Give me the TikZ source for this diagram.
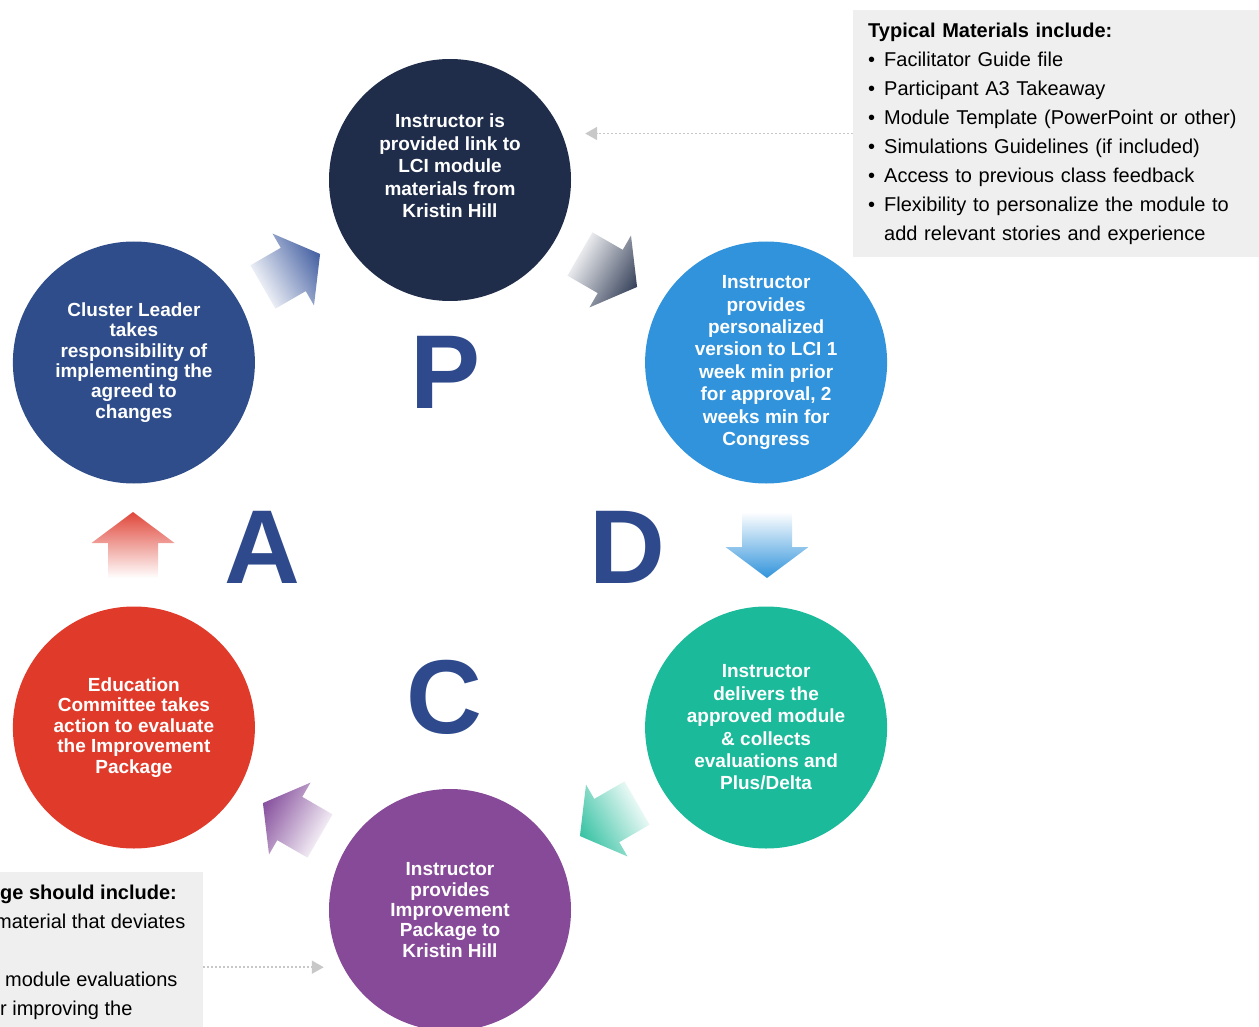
\documentclass[tikz,border=0pt]{standalone}
\usepackage{fontspec}
\setmainfont{Liberation Sans}
\usetikzlibrary{arrows.meta, positioning, calc}

\definecolor{planNavy}{HTML}{1F2D4A}
\definecolor{doSky}{HTML}{3093DB}
\definecolor{doTeal}{HTML}{1BBA9A}
\definecolor{checkPurple}{HTML}{874A98}
\definecolor{actRed}{HTML}{E03A2A}
\definecolor{actBlue}{HTML}{2F4D8A}
\definecolor{letterBlue}{HTML}{2E4A8C}
\definecolor{noteGray}{HTML}{EFEFEF}
\definecolor{linkGray}{HTML}{C8C8C8}
\definecolor{arrNavy}{HTML}{3C475F}
\definecolor{arrLead}{HTML}{4A65A5}
\definecolor{arrTeal}{HTML}{3DC4A6}
\definecolor{arrPurple}{HTML}{8A55A0}
\definecolor{arrRed}{HTML}{E0473A}

\newcommand{\bul}{\makebox[16pt][l]{\textbullet}}

\begin{document}
\begin{tikzpicture}[
    x=1pt, y=1pt,
    stage/.style={circle, minimum size=242pt, inner sep=0pt, text=white, align=center, font=\bfseries\fontsize{19}{22.4}\selectfont},
    snug/.style={font=\bfseries\fontsize{19}{20.4}\selectfont},
    blurb/.style={text=white, align=center, font=\bfseries\fontsize{19}{22.4}\selectfont},
    letter/.style={anchor=base, text=letterBlue, font=\bfseries\fontsize{105}{105}\selectfont},
    note/.style={rectangle, fill=noteGray, inner xsep=15pt, inner ysep=12.5pt, align=left, font=\fontsize{20}{29}\selectfont},
    link/.style={draw=linkGray, line width=1.8pt, dash pattern=on 1.8pt off 2.2pt, -{Triangle[length=12pt, width=13pt]}}
]
\useasboundingbox (0,0) rectangle (1259,-1027);

\coordinate (hub) at (450,-545);

% PDCA circles
\node[stage, fill=planNavy] (plan) at ($(hub)+(90:365)$) {};
\node[blurb] (plantext) at ([yshift=14pt]plan.center) {Instructor is\\provided link to\\LCI module\\materials from\\Kristin Hill};
\node[stage, fill=doSky] (prepare) at ($(hub)+(30:365)$) {Instructor\\provides\\personalized\\version to LCI 1\\week min prior\\for approval, 2\\weeks min for\\Congress};
\node[stage, fill=doTeal] (deliver) at ($(hub)+(-30:365)$) {Instructor\\delivers the\\approved module\\\& collects\\evaluations and\\Plus/Delta};
\node[stage, snug, fill=checkPurple] (report) at ($(hub)+(-90:365)$) {Instructor\\provides\\Improvement\\Package to\\Kristin Hill};
\node[stage, snug, fill=actRed] (review) at ($(hub)+(210:365)$) {Education\\Committee takes\\action to evaluate\\the Improvement\\Package};
\node[stage, snug, fill=actBlue] (adopt) at ($(hub)+(150:365)$) {Cluster Leader\\takes\\responsibility of\\implementing the\\agreed to\\changes};

% Big letters
\node[letter] (letterP) at (446,-408) {P};
\node[letter] (letterD) at (627,-583) {D};
\node[letter] (letterA) at (262,-583) {A};
\node[letter] (letterC) at (444,-733) {C};

% Shaded block arrows between the stages
\foreach \ang/\col in {0/doSky, 60/arrNavy, 120/arrLead, 180/arrRed, 240/arrPurple, 300/arrTeal}{
  \pgfmathsetmacro{\tilt}{\ang-180}
  \begin{scope}[shift={(hub)}, rotate=\ang]
    \path[top color=\col, bottom color=white, shading angle=\tilt]
      (292,33) -- (342,33) -- (342,-2) -- (358.5,-2) -- (317,-33) -- (275.5,-2) -- (292,-2) -- cycle;
  \end{scope}
}

% Side notes
\node[note, anchor=north west, text width=376pt] (materials) at (853,-10) {\textbf{Typical Materials include:}\\
\bul Facilitator Guide file\\
\bul Participant A3 Takeaway\\
\bul Module Template (PowerPoint or other)\\
\bul Simulations Guidelines (if included)\\
\bul Access to previous class feedback\\
\bul Flexibility to personalize the module to\\
\hspace*{16pt}add relevant stories and experience};

\node[note, anchor=north east, minimum width=260pt, minimum height=190pt] (package) at (203,-872) {};
\node[note, fill=none, anchor=north west, inner xsep=0pt] (packagetext) at (0,-872) {\textbf{ge should include:}\\
\hspace*{-5pt}material that deviates\\
\mbox{}\\
\hspace*{5pt}module evaluations\\
r improving the};

% Dotted links
\draw[link] (materials.west) -- ($(materials.west -| plan.east)+(14,0)$);
\draw[link] (package.east) -- ($(package.east -| report.west)+(-5,0)$);

\end{tikzpicture}
\end{document}
